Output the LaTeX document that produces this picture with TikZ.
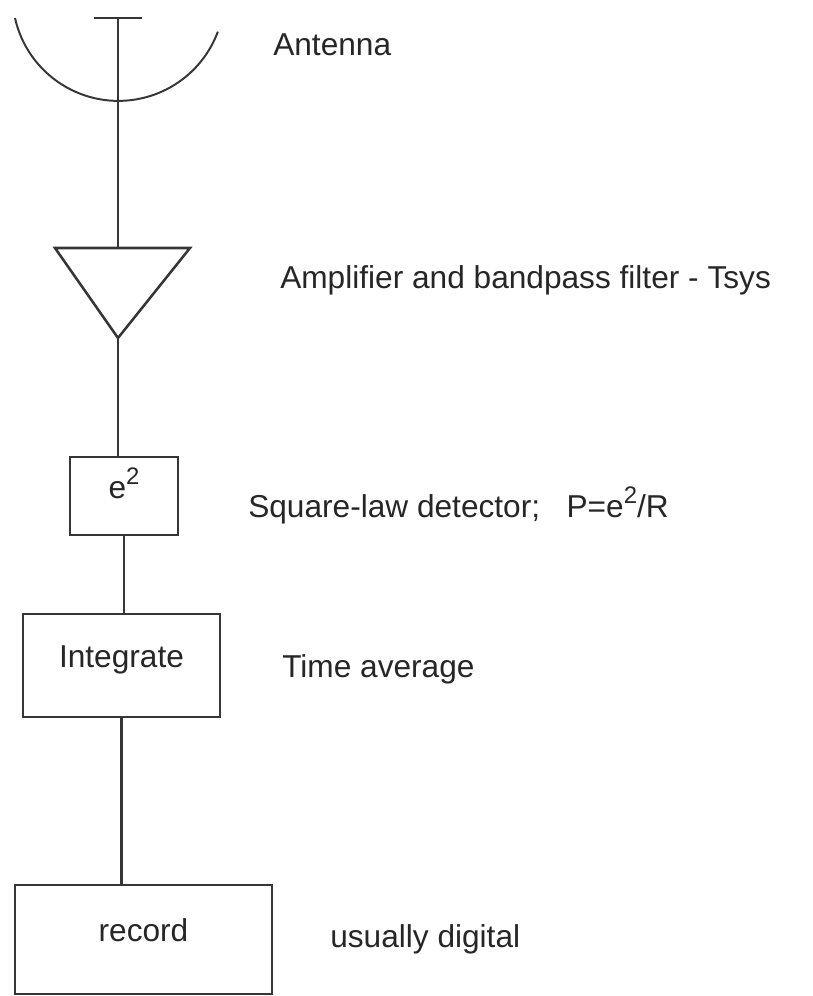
\documentclass[tikz,border=0pt]{standalone}
\usepackage{fontspec}
\setmainfont{Liberation Sans}
\definecolor{inkgray}{HTML}{363636}
\definecolor{textgray}{HTML}{262626}
\newcommand{\sqmark}{\raisebox{0.42em}{\fontsize{17}{20}\selectfont 2}}
\begin{document}
\begin{tikzpicture}
[x=0.025cm,y=-0.025cm,%
  boxdecorate/.style={shape=rectangle,draw=inkgray,line width=1.8pt,inner sep=0pt,%
    text=textgray,text height=0.6em,text depth=0.3em},%
  linedecorate/.style={-,draw=inkgray,line width=1.8pt},%
  labeldecorate/.style={anchor=base west,inner sep=0pt,text=textgray},%
  font=\fontsize{22.5}{27}\selectfont]
\useasboundingbox (0,0) rectangle (812,996);
%% antenna dish and feed
\draw[linedecorate,line width=1.4pt] (15,18) arc[start angle=167.4,end angle=20.3,radius=106];
\coordinate (feed) at (118,18);
\draw[linedecorate] (94,18) -- (142,18);
%% amplifier
\coordinate (amptop) at (118,248);
\coordinate (apex) at (118,338);
\draw[linedecorate,line join=miter] (55,248) -- (190,248) -- (apex) -- cycle;
%% boxes
\foreach \nodename/\x/\y/\w/\h/\txt in {sq/124/496/108/78/{e\sqmark},
    integ/121.5/665.5/197/103/Integrate, rec/143.5/939.5/257/109/record} {
  \node (\nodename) at (\x,\y) [boxdecorate,minimum width=\w*0.025cm,minimum height=\h*0.025cm] {\txt};
}
%% labels
\foreach \nodename/\x/\y/\txt in {antlabel/273/55/Antenna,
    amplabel/280/288/{Amplifier and bandpass filter - Tsys},
    sqlabel/248/517/{Square-law detector;\ \ \ P=e\sqmark/R},
    integlabel/282/677/{Time average}, reclabel/330/947/{usually digital}} {
  \node (\nodename) at (\x,\y) [labeldecorate] {\txt};
}
%% lines
\path (feed) edge[linedecorate] (amptop);
\path
\foreach \startnode/\endnode in {apex/sq, sq.south/integ, integ.south/rec} {
  (\startnode) edge[linedecorate] (\startnode |- \endnode.north)
};
\end{tikzpicture}
\end{document}
